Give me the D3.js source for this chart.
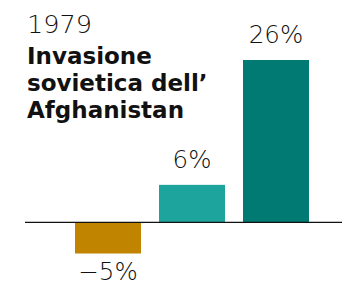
<!DOCTYPE html>
<html>
<head>
<meta charset="utf-8">
<script src="https://cdn.jsdelivr.net/npm/d3@7"></script>
<style>
  body { margin: 0; background: #fff; }
  text { font-family: "DejaVu Sans", sans-serif; fill: #111; }
</style>
</head>
<body>
<div id="chart"></div>
<script>
const width = 342;
const height = 282;

const categories = ['a', 'b', 'c'];
const values = [-5, 6, 26];
const labels = ['\u22125%', '6%', '26%'];
const colors = ['#C08400', '#1DA59D', '#007A72'];
const titleYear = '1979';
const titleLines = ['Invasione', 'sovietica dell\u2019', 'Afghanistan'];

const svg = d3.select('#chart')
    .append('svg')
    .attr('width', width)
    .attr('height', height);

const x = d3.scaleBand()
    .domain(categories)
    .range([75, 309])
    .paddingInner(0.2143)
    .paddingOuter(0);

const y = d3.scaleLinear()
    .domain([-5, 26])
    .range([253.5, 60]);

// bars
svg.selectAll('rect.bar')
    .data(values)
    .enter()
    .append('rect')
    .attr('class', 'bar')
    .attr('x', (d, i) => x(categories[i]))
    .attr('width', x.bandwidth())
    .attr('y', d => y(Math.max(0, d)))
    .attr('height', d => Math.abs(y(d) - y(0)))
    .attr('fill', (d, i) => colors[i]);

// zero line
svg.append('line')
    .attr('x1', 25)
    .attr('x2', width)
    .attr('y1', y(0))
    .attr('y2', y(0))
    .attr('stroke', '#111')
    .attr('stroke-width', 1.3);

// value labels
svg.selectAll('text.val')
    .data(values)
    .enter()
    .append('text')
    .attr('class', 'val')
    .attr('x', (d, i) => x(categories[i]) + x.bandwidth() / 2)
    .attr('y', d => d >= 0 ? y(d) - 17 : y(d) + 26.5)
    .attr('text-anchor', 'middle')
    .style('font-size', '24.5px')
    .style('font-weight', 300)
    .text((d, i) => labels[i]);

// title
svg.append('text')
    .attr('x', 27)
    .attr('y', 33)
    .style('font-size', '25.5px')
    .style('font-weight', 300)
    .text(titleYear);

svg.selectAll('text.title')
    .data(titleLines)
    .enter()
    .append('text')
    .attr('class', 'title')
    .attr('x', 27)
    .attr('y', (d, i) => 64 + i * 27)
    .style('font-size', '23px')
    .style('font-weight', 700)
    .text(d => d);
</script>
</body>
</html>
